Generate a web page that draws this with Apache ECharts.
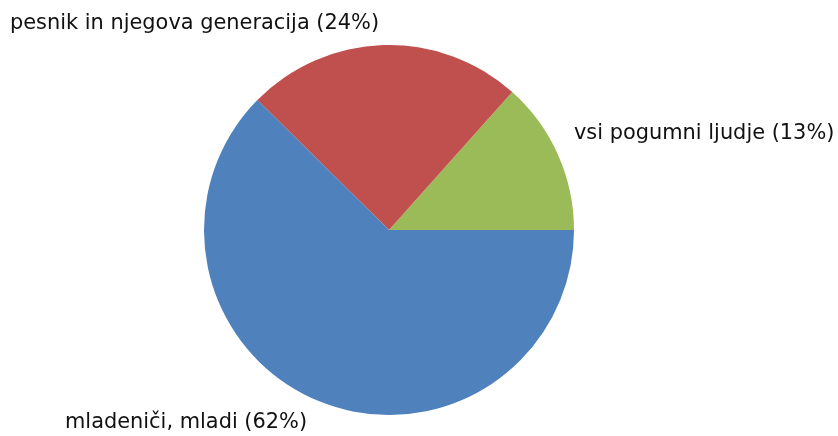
<!DOCTYPE html>
<html>
<head>
<meta charset="utf-8">
<script src="https://cdn.jsdelivr.net/npm/echarts@6/dist/echarts.min.js"></script>
<style>
  html, body { margin: 0; padding: 0; background: #fff; }
  #chart { width: 838px; height: 436px; }
</style>
</head>
<body>
<div id="chart"></div>
<script>
// podatki
const categories = ['vsi pogumni ljudje', 'pesnik in njegova generacija', 'mladeniči, mladi'];
const values = [13.4, 24.2, 62.4];
const percentLabels = ['13%', '24%', '62%'];
const colors = ['#9BBB59', '#C0504D', '#4F81BD'];

// label anchor points (left edge, middle)
const labelPos = [[574, 134], [10, 24], [65, 423]];

const chart = echarts.init(document.getElementById('chart'));
const option = {
  animation: false,
  series: [
    {
      type: 'pie',
      center: [389, 230],
      radius: 185,
      startAngle: 0,
      clockwise: false,
      data: categories.map((name, i) => ({
        name: name,
        value: values[i],
        itemStyle: { color: colors[i] }
      })),
      label: {
        show: true,
        color: '#111',
        fontFamily: 'DejaVu Sans',
        fontSize: 20.9,
        overflow: 'none',
        width: 400,
        formatter: (p) => `${p.name} (${percentLabels[p.dataIndex]})`
      },
      labelLine: { show: false },
      labelLayout: (params) => ({
        x: labelPos[params.dataIndex][0],
        y: labelPos[params.dataIndex][1],
        align: 'left',
        verticalAlign: 'middle'
      }),
      emphasis: { disabled: true }
    }
  ]
};
chart.setOption(option);
</script>
</body>
</html>
